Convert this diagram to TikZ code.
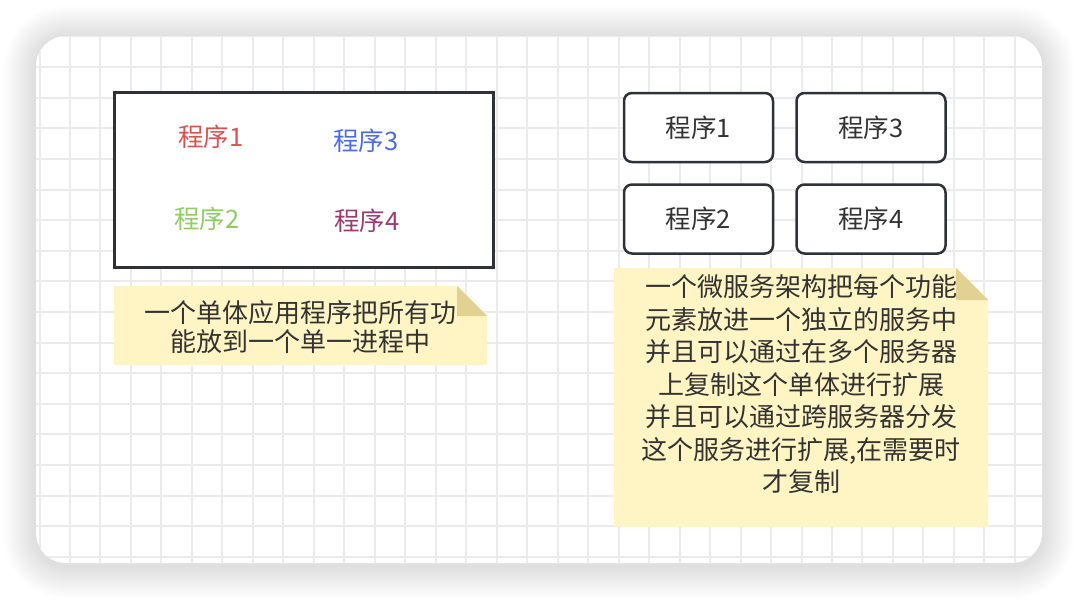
\documentclass[tikz,border=0pt]{standalone}
\usepackage{fontspec}
\setmainfont{Noto Sans CJK SC}
\usepackage{xcolor}
\usetikzlibrary{positioning}
\definecolor{inkdark}{HTML}{2E3136}
\definecolor{txtdark}{HTML}{333333}
\definecolor{gridline}{HTML}{EBEBEB}
\definecolor{notefill}{HTML}{FFF5C4}
\definecolor{notefold}{HTML}{E2D292}
\definecolor{progred}{HTML}{DB5252}
\definecolor{progblue}{HTML}{4D6BE3}
\definecolor{proggreen}{HTML}{8FCC62}
\definecolor{progpurple}{HTML}{9B3B72}
\tikzset{
  card/.style={fill=white, rounded corners=30pt},
  haze/.style={fill=black, fill opacity=0.0085},
  gridrule/.style={draw=gridline, line width=2pt},
  monobox/.style={rectangle, draw=inkdark, line width=3pt, fill=white,
                  minimum width=379pt, minimum height=175pt},
  svcbox/.style={rectangle, rounded corners=8pt, draw=inkdark, line width=2.5pt, fill=white,
                 minimum width=149pt, minimum height=69pt, text=txtdark,
                 font=\fontsize{25.5}{30}\selectfont},
  prog/.style={inner sep=0pt, font=\fontsize{25.5}{30}\selectfont},
  notepaper/.style={fill=notefill},
  notecorner/.style={fill=notefold},
  notetext/.style={inner sep=0pt, text=txtdark, align=center},
}

\begin{document}
\begin{tikzpicture}[x=1pt, y=-1pt]
\useasboundingbox (0,0) rectangle (1078,600);
\foreach \s in {1,...,16}
  \fill[haze, rounded corners={30pt+2*\s pt}] ({36-2*\s},{38-2*\s}) rectangle ({1042+2*\s},{566+2*\s});
\fill[card] (36,36) rectangle (1042,563);
\begin{scope}
\clip[rounded corners=30pt] (36,36) rectangle (1042,563);
\foreach \gx in {0,...,32} {\draw[gridrule] ({39.5+30.48*\gx},36) -- ++(0,527);}
\foreach \gy in {0,...,17} {\draw[gridrule] (36,{36.4+30.62*\gy}) -- ++(1006,0);}
\end{scope}

\node[monobox] (mono) at (303.5,179.5) {};
\node[prog, text=progred] (mono1) at (211,137) {程序1};
\node[prog, text=progblue] (mono3) at (366,141) {程序3};
\node[prog, text=proggreen] (mono2) at (207,219) {程序2};
\node[prog, text=progpurple] (mono4) at (367,221) {程序4};

\fill[notepaper] (114,286) -- (457,286) -- (487,316) -- (487,365) -- (114,365) -- cycle;
\fill[notecorner] (457,286) -- (487,316) -- (457,316) -- cycle;
\node[notetext, font=\fontsize{26}{29.5}\selectfont] (mononote) at (300.5,327)
  {一个单体应用程序把所有功\\能放到一个单一进程中};

\node[svcbox] (svc1) at (698.5,127.5) {程序1};
\node[svcbox, right=21pt of svc1] (svc3) {程序3};
\node[svcbox, below=20pt of svc1] (svc2) {程序2};
\node[svcbox, right=21pt of svc2] (svc4) {程序4};

\fill[notepaper] (614,268) -- (956,268) -- (988,300) -- (988,527) -- (614,527) -- cycle;
\fill[notecorner] (956,268) -- (988,300) -- (956,300) -- cycle;
\node[notetext, font=\fontsize{26}{32.5}\selectfont] (svcnote) at (801,384.5)
  {一个微服务架构把每个功能\\元素放进一个独立的服务中\\并且可以通过在多个服务器\\上复制这个单体进行扩展\\并且可以通过跨服务器分发\\这个服务进行扩展,在需要时\\才复制};
\end{tikzpicture}
\end{document}
